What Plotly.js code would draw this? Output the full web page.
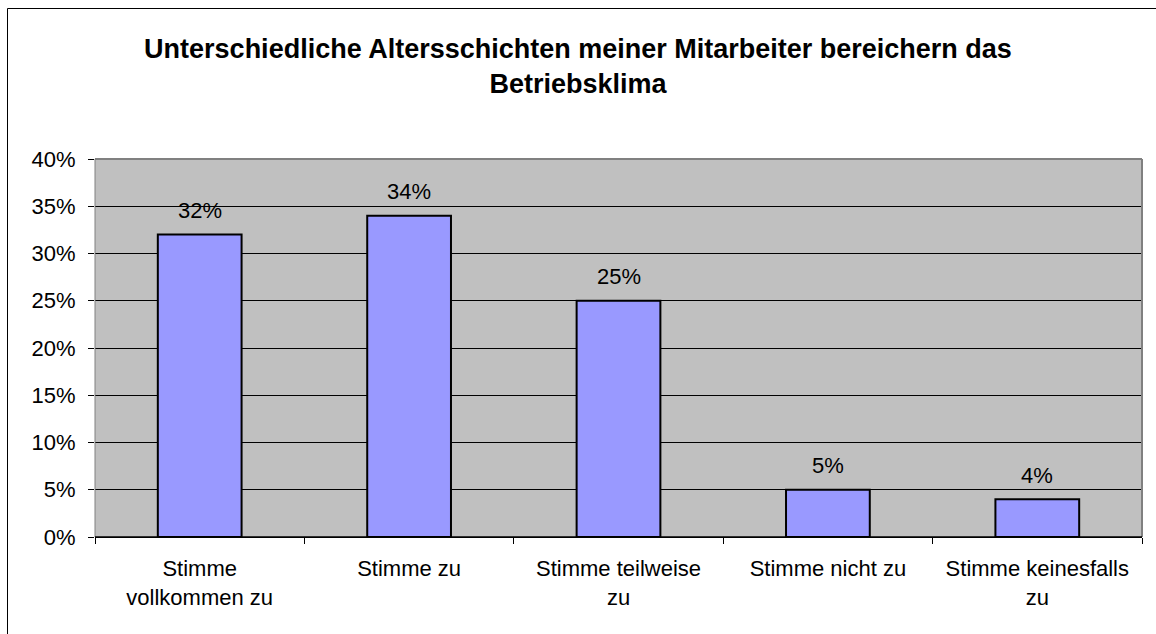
<!DOCTYPE html>
<html>
<head>
<meta charset="utf-8">
<script src="https://cdn.plot.ly/plotly-3.0.1.min.js"></script>
<style>
  html, body { margin: 0; padding: 0; background: #ffffff; }
  #chart { width: 1156px; height: 634px; }
</style>
</head>
<body>
<div id="chart"></div>
<script>
// ---- Data ----
const categories = [
  "Stimme<br>vollkommen zu",
  "Stimme zu",
  "Stimme teilweise<br>zu",
  "Stimme nicht zu",
  "Stimme keinesfalls<br>zu"
];
const values = [32, 34, 25, 5, 4];
const yTickValues = [0, 5, 10, 15, 20, 25, 30, 35, 40];
const titleText = "Unterschiedliche Altersschichten meiner Mitarbeiter bereichern das<br>Betriebsklima";

const FONT = "Liberation Sans, Arial, Helvetica, sans-serif";

const trace = {
  type: "bar",
  x: categories,
  y: values,
  width: 0.4,
  marker: { color: "#9999FF", line: { color: "#000000", width: 2 } },
  hoverinfo: "skip"
};

const annotations = categories.map((c, i) => ({
  x: c, y: values[i], xref: "x", yref: "y",
  text: values[i] + "%",
  showarrow: false,
  yanchor: "middle",
  yshift: 24,
  font: { family: FONT, size: 22, color: "#000000" }
}));

const layout = {
  width: 1156,
  height: 634,
  margin: { l: 95, r: 14, t: 159, b: 97 },
  paper_bgcolor: "#ffffff",
  plot_bgcolor: "#C0C0C0",
  showlegend: false,
  title: {
    text: titleText,
    x: 0.5, xref: "container", xanchor: "center",
    y: 1 - 58 / 634, yref: "container", yanchor: "middle",
    font: { family: FONT, size: 27, color: "#000000", weight: "bold" }
  },
  xaxis: {
    type: "category",
    tickson: "boundaries",
    ticks: "outside",
    ticklen: 6,
    tickwidth: 1,
    tickcolor: "#000000",
    showline: true,
    linecolor: "#000000",
    linewidth: 1,
    showgrid: false,
    ticklabelstandoff: 12,
    tickfont: { family: FONT, size: 22, color: "#000000" }
  },
  yaxis: {
    range: [0, 40],
    tickvals: yTickValues,
    ticktext: yTickValues.map(v => v + "%"),
    ticks: "outside",
    ticklen: 6,
    tickwidth: 1,
    tickcolor: "#000000",
    showline: false,
    showgrid: true,
    gridcolor: "#000000",
    gridwidth: 1,
    zeroline: false,
    ticklabelstandoff: 8,
    tickfont: { family: FONT, size: 22, color: "#000000" }
  },
  shapes: [
    { type: "line", xref: "paper", yref: "paper", x0: 0, x1: 1, y0: 1, y1: 1, line: { color: "#808080", width: 2 }, layer: "above" },
    { type: "line", xref: "paper", yref: "paper", x0: 1, x1: 1, y0: 0, y1: 1, line: { color: "#808080", width: 2 }, layer: "above" },
    { type: "line", xref: "paper", yref: "paper", x0: 0, x1: 0, y0: 0, y1: 1, line: { color: "#808080", width: 1 }, layer: "above" },
    { type: "line", xref: "paper", yref: "paper", x0: 0, x1: 1, y0: 0, y1: 0, line: { color: "#000000", width: 1.5 }, layer: "above" },
    { type: "rect", xref: "paper", yref: "paper",
      x0: (7.5 - 95) / 1047, x1: 1.3, y0: -0.6, y1: (537 - 8.5) / 378,
      line: { color: "#000000", width: 1 }, fillcolor: "rgba(0,0,0,0)", layer: "above" }
  ],
  annotations: annotations
};

Plotly.newPlot("chart", [trace], layout, { displayModeBar: false, staticPlot: true });
</script>
</body>
</html>
